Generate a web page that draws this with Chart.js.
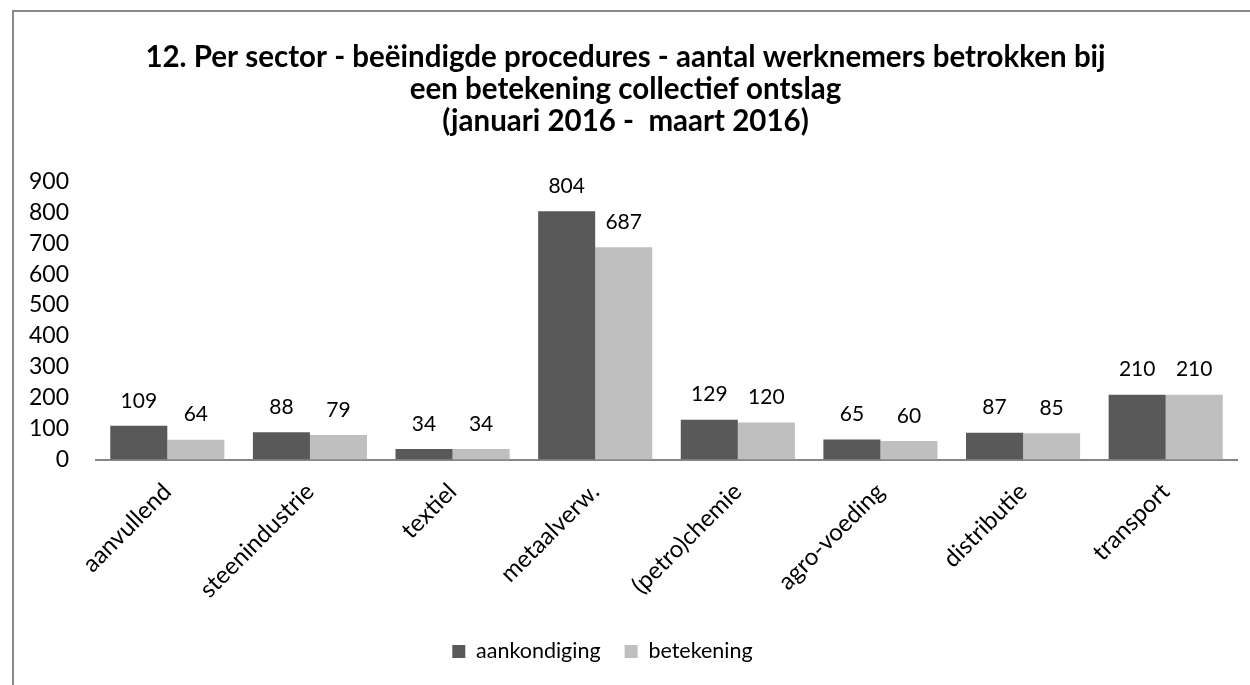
<!DOCTYPE html>
<html>
<head>
<meta charset="utf-8">
<script src="https://cdn.jsdelivr.net/npm/chart.js@4.4.0/dist/chart.umd.min.js"></script>
<style>
  body { margin: 0; background: #fff; overflow: hidden; }
  #frame { position: absolute; left: 12px; top: 10px; width: 1240px; height: 690px;
           border-left: 2px solid #8a8a8a; border-top: 2px solid #8a8a8a; }
  canvas { display: block; }
</style>
</head>
<body>
<div id="frame"><canvas id="myChart" width="1240" height="680"></canvas></div>
<script>
//-- data ---->
var sectors = ['aanvullend', 'steenindustrie', 'textiel', 'metaalverw.', '(petro)chemie', 'agro-voeding', 'distributie', 'transport'];
var aankondiging = [109, 88, 34, 804, 129, 65, 87, 210];
var betekening = [64, 79, 34, 687, 120, 60, 85, 210];
var titleLines = ['12. Per sector - beëindigde procedures - aantal werknemers betrokken bij', 'een betekening collectief ontslag', '(januari 2016 -  maart 2016)'];

var fontName = 'Lato';

//-- labels above the bars ---->
var barLabels = {
    id: 'barLabels',
    afterDatasetsDraw: function (chart) {
        var ctx = chart.ctx;
        ctx.save();
        ctx.font = '21px ' + fontName;
        ctx.fillStyle = '#000';
        ctx.textAlign = 'center';
        ctx.textBaseline = 'middle';
        chart.data.datasets.forEach(function (ds, i) {
            chart.getDatasetMeta(i).data.forEach(function (bar, j) {
                ctx.fillText(ds.data[j], bar.x, bar.y - 25);
            });
        });
        ctx.restore();
    }
};

//-- legend sits a bit left of centre in the original ---->
var legendShift = {
    id: 'legendShift',
    afterLayout: function (chart) {
        chart.legend.left -= 23;
        chart.legend.right -= 23;
    }
};

var ctx = document.getElementById('myChart');
var myChart = new Chart(ctx, {
    type: 'bar',
    data: {
        labels: sectors,
        datasets: [{
            label: 'aankondiging',
            data: aankondiging,
            backgroundColor: '#595959'
        }, {
            label: 'betekening',
            data: betekening,
            backgroundColor: '#bfbfbf'
        }]
    },
    options: {
        responsive: false,
        animation: false,
        layout: { padding: { left: 0, right: 17, top: 0, bottom: 19.75 } },
        datasets: { bar: { categoryPercentage: 0.8, barPercentage: 1.0 } },
        plugins: {
            tooltip: { enabled: false },
            title: {
                display: true,
                text: titleLines,
                color: '#000',
                font: { family: fontName, size: 29.5, weight: 'bold', lineHeight: 32 / 29.5 },
                padding: { top: 29, bottom: 44.5 }
            },
            legend: {
                position: 'bottom',
                labels: {
                    color: '#000',
                    font: { family: fontName, size: 21.5 },
                    boxWidth: 13,
                    boxHeight: 13,
                    padding: 24
                }
            }
        },
        scales: {
            x: {
                grid: { display: false },
                border: { display: true, color: '#868686', width: 2 },
                ticks: { color: '#000', font: { family: fontName, size: 24 }, minRotation: 45, maxRotation: 45, padding: 10 },
                afterFit: function (scale) { scale.height = 157.25; }
            },
            y: {
                min: 0,
                max: 900,
                grid: { display: false, drawTicks: false },
                border: { display: false },
                ticks: { stepSize: 100, color: '#000', font: { family: fontName, size: 23 }, padding: 27 },
                afterFit: function (scale) { scale.width = 82; }
            }
        }
    },
    plugins: [barLabels, legendShift]
});
</script>
</body>
</html>
